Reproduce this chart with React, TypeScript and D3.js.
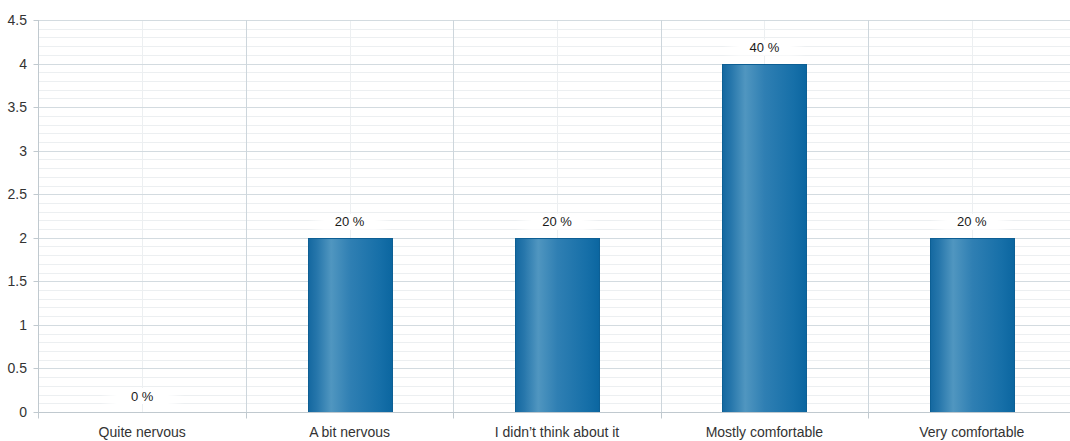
import React from "react";
import * as d3 from "d3";

const categories = ["Quite nervous", "A bit nervous", "I didn\u2019t think about it", "Mostly comfortable", "Very comfortable"];
const counts = [0, 2, 2, 4, 2];
const percentLabels = ["0 %", "20 %", "20 %", "40 %", "20 %"];
const yTicks = [0, 0.5, 1, 1.5, 2, 2.5, 3, 3.5, 4, 4.5];

const W = 1070;
const H = 441;
const M = { left: 38.5, right: 1075.5, top: 20, bottom: 412 };

export default function App() {
  const x = d3.scaleBand<string>().domain(categories).range([M.left, M.right]).paddingInner(0).paddingOuter(0);
  const y = d3.scaleLinear().domain([0, 4.5]).range([M.bottom, M.top]);
  const minor = d3.range(0, 45).map((i) => i / 10).filter((v) => Math.round(v * 10) % 5 !== 0);
  const bw = x.bandwidth();
  const barW = bw * 0.405;
  const font = "Arial, 'Liberation Sans', sans-serif";
  const py = (v: number) => Math.round(y(v)) + 0.5;
  const axisY = py(0);

  return (
    <svg width={W} height={H} style={{ position: "absolute", left: 0, top: 0, background: "#fff" }} fontFamily={font}>
      <defs>
        <linearGradient id="barGrad" x1="0" x2="1" y1="0" y2="0">
          <stop offset="0" stopColor="#1468a0" />
          <stop offset="0.1" stopColor="#2676ab" />
          <stop offset="0.27" stopColor="#5096c0" />
          <stop offset="0.5" stopColor="#2f7fb3" />
          <stop offset="0.85" stopColor="#166fa8" />
          <stop offset="1" stopColor="#0b66a0" />
        </linearGradient>
        <linearGradient id="lblGrad" x1="0" x2="1" y1="0" y2="0">
          <stop offset="0" stopColor="#fff" stopOpacity="0" />
          <stop offset="0.2" stopColor="#fff" stopOpacity="1" />
          <stop offset="0.8" stopColor="#fff" stopOpacity="1" />
          <stop offset="1" stopColor="#fff" stopOpacity="0" />
        </linearGradient>
      </defs>
      {minor.map((v) => (
        <line key={"mn" + v} x1={M.left} x2={M.right} y1={py(v)} y2={py(v)} stroke="#eceff1" strokeWidth={1} />
      ))}
      {categories.map((c) => {
        const cx = Math.round((x(c) as number) + bw / 2) + 0.5;
        return <line key={"cv" + c} x1={cx} x2={cx} y1={M.top} y2={axisY} stroke="#eceff1" strokeWidth={1} />;
      })}
      {yTicks.filter((v) => v > 0).map((v) => (
        <line key={"mj" + v} x1={M.left} x2={M.right} y1={py(v)} y2={py(v)} stroke="#d3dbe0" strokeWidth={1} />
      ))}
      {categories.slice(1).map((c) => {
        const bx = Math.round(x(c) as number) + 0.5;
        return (
          <g key={"cb" + c}>
            <line x1={bx} x2={bx} y1={M.top} y2={axisY} stroke="#cdd6dc" strokeWidth={1} />
            <line x1={bx} x2={bx} y1={axisY} y2={axisY + 6} stroke="#c0c9cf" strokeWidth={1} />
          </g>
        );
      })}
      {categories.map((c, i) => {
        const cx = (x(c) as number) + bw / 2;
        const top = py(counts[i]);
        const h = axisY - top;
        return h > 0 ? (
          <rect key={"b" + c} x={Math.round(cx - barW / 2) + 0.5} y={top} width={Math.round(barW)} height={h} fill="url(#barGrad)" stroke="#0d5f94" strokeWidth={1} />
        ) : null;
      })}
      {categories.map((c, i) => {
        const cx = (x(c) as number) + bw / 2;
        const top = y(counts[i]);
        const ty = top - 16;
        return (
          <g key={"l" + c}>
            <rect x={cx - barW / 2} y={ty - 8} width={barW} height={16} fill="url(#lblGrad)" />
            <text x={cx} y={ty} textAnchor="middle" dominantBaseline="central" fontSize={13} fill="#1a1a1a">
              {percentLabels[i]}
            </text>
          </g>
        );
      })}
      <line x1={M.left} x2={M.left} y1={M.top} y2={axisY + 6} stroke="#c0c9cf" strokeWidth={1} />
      <line x1={M.left} x2={M.right} y1={axisY} y2={axisY} stroke="#c0c9cf" strokeWidth={1} />
      {yTicks.map((v) => (
        <g key={"yt" + v}>
          <line x1={M.left - 5} x2={M.left} y1={py(v)} y2={py(v)} stroke="#c0c9cf" strokeWidth={1} />
          <text x={M.left - 11.5} y={y(v)} textAnchor="end" dominantBaseline="central" fontSize={14} fill="#333">
            {String(v)}
          </text>
        </g>
      ))}
      {categories.map((c) => (
        <text key={"xt" + c} x={(x(c) as number) + bw / 2} y={432} textAnchor="middle" dominantBaseline="central" fontSize={14} fill="#333">
          {c}
        </text>
      ))}
    </svg>
  );
}
